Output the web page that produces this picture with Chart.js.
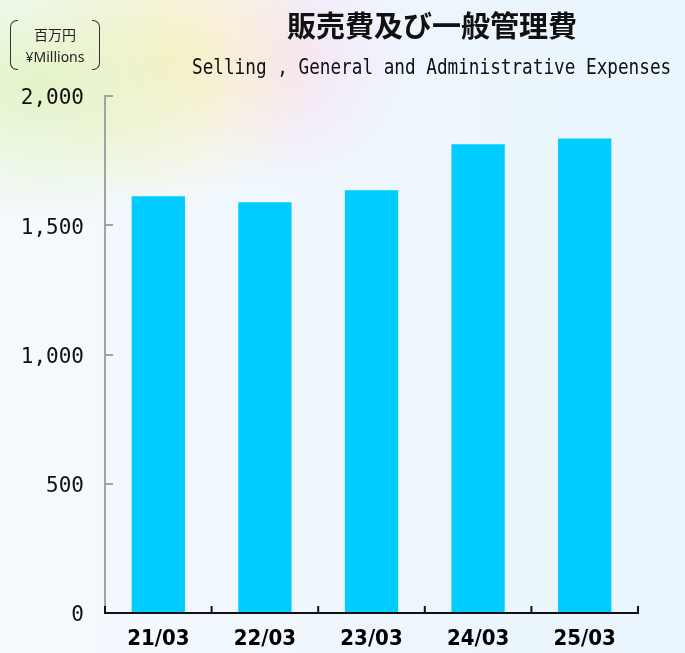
<!DOCTYPE html>
<html>
<head>
<meta charset="utf-8">
<script src="https://cdn.jsdelivr.net/npm/chart.js@4.4.1/dist/chart.umd.min.js"></script>
<style>
  html, body { margin: 0; padding: 0; }
  body { width: 685px; height: 653px; overflow: hidden; position: relative;
    background:
      radial-gradient(ellipse 200px 140px at 40px 85px, rgba(228,244,200,1), rgba(228,244,200,0) 100%),
      radial-gradient(ellipse 160px 145px at 170px 60px, rgba(252,240,196,1), rgba(252,240,196,0) 100%),
      radial-gradient(ellipse 120px 130px at 290px 60px, rgba(246,226,246,0.95), rgba(246,226,246,0) 100%),
      linear-gradient(90deg, #f5fafe 0%, #eef6fd 60%, #e9f5fd 100%);
  }
  #wrap { position: absolute; left: 0; top: 0; width: 685px; height: 653px; }
  .title { position: absolute; left: 272px; width: 320px; top: 5px; text-align: center;
    font-family: "Noto Sans CJK JP", sans-serif; font-weight: 700; font-size: 29px; color: #111; line-height: 38px; }
  .sub { position: absolute; left: 192px; top: 56px; font-family: "DejaVu Sans Mono", monospace;
    font-size: 17.7px; color: #111; white-space: pre; transform: scaleY(1.15); transform-origin: left top; line-height: 20px; }
  .unit { position: absolute; left: 10px; top: 20px; width: 90px; height: 50px; }
  .unit .lb, .unit .rb { position: absolute; top: 0; width: 7px; height: 48px; border: 1px solid #333; }
  .unit .lb { left: 0; border-right: none; border-radius: 7px 0 0 7px; }
  .unit .rb { right: 0; border-left: none; border-radius: 0 7px 7px 0; }
  .unit .t1 { position: absolute; left: 0; width: 90px; top: 6px; text-align: center; font-family: "Noto Sans CJK JP", sans-serif; font-size: 14px; color: #222; line-height: 16px; }
  .unit .t2 { position: absolute; left: 0; width: 90px; top: 29px; text-align: center; font-family: "Noto Sans", sans-serif; font-size: 14px; color: #222; line-height: 16px; }
</style>
</head>
<body>
<div id="wrap"><canvas id="c" width="685" height="653"></canvas></div>
<div class="title">販売費及び一般管理費</div>
<div class="sub">Selling , General and Administrative Expenses</div>
<div class="unit"><div class="lb"></div><div class="rb"></div><div class="t1">百万円</div><div class="t2">¥Millions</div></div>
<script>
const categories = ["21/03", "22/03", "23/03", "24/03", "25/03"];
const sgaValues = [1612, 1589, 1635, 1813, 1836];
const yTicks = [0, 500, 1000, 1500, 2000];

const innerTicks = {
  id: 'innerTicks',
  afterDraw(chart) {
    const ctx = chart.ctx;
    const x = chart.scales.x, y = chart.scales.y;
    const left = chart.chartArea.left, bottom = chart.chartArea.bottom;
    ctx.save();
    ctx.strokeStyle = '#a3a3a3';
    ctx.lineWidth = 2;
    ctx.beginPath();
    ctx.moveTo(left, y.getPixelForValue(2000) - 1);
    ctx.lineTo(left, bottom);
    ctx.stroke();
    yTicks.forEach(v => {
      const py = Math.round(y.getPixelForValue(v));
      ctx.beginPath();
      ctx.moveTo(left, py);
      ctx.lineTo(left + 8, py);
      ctx.stroke();
    });
    ctx.strokeStyle = '#111';
    ctx.lineWidth = 2;
    ctx.beginPath();
    ctx.moveTo(left - 1, bottom);
    ctx.lineTo(chart.chartArea.right + 1, bottom);
    ctx.stroke();
    const n = categories.length;
    const step = x.getPixelForValue(1) - x.getPixelForValue(0);
    for (let i = 0; i <= n; i++) {
      const px = x.getPixelForValue(0) - step / 2 + i * step;
      ctx.beginPath();
      ctx.moveTo(px, bottom);
      ctx.lineTo(px, bottom - 7);
      ctx.stroke();
    }
    ctx.restore();
  }
};

new Chart(document.getElementById('c'), {
  type: 'bar',
  data: {
    labels: categories,
    datasets: [{
      data: sgaValues,
      backgroundColor: '#00ccff',
      borderWidth: 0,
      categoryPercentage: 1.0,
      barPercentage: 0.5
    }]
  },
  options: {
    responsive: false,
    animation: false,
    events: [],
    layout: { padding: { top: 96, right: 47, left: 0, bottom: 0 } },
    plugins: { legend: { display: false }, tooltip: { enabled: false }, title: { display: false } },
    scales: {
      x: {
        grid: { display: false, drawTicks: false },
        border: { display: false },
        ticks: {
          color: '#000', padding: 13,
          font: { family: 'DejaVu Sans Condensed', size: 22, weight: 'bold' }
        },
        afterFit(s) { s.height = 40; }
      },
      y: {
        min: 0, max: 2000,
        afterBuildTicks(s) { s.ticks = yTicks.map(v => ({ value: v })); },
        grid: { display: false, drawTicks: false },
        border: { display: false },
        ticks: {
          color: '#111', padding: 21, labelOffset: 3,
          font: { family: 'DejaVu Sans Mono', size: 21 },
          callback: v => v.toLocaleString('en-US')
        },
        afterFit(s) { s.width = 105; }
      }
    }
  },
  plugins: [innerTicks]
});
</script>
</body>
</html>
